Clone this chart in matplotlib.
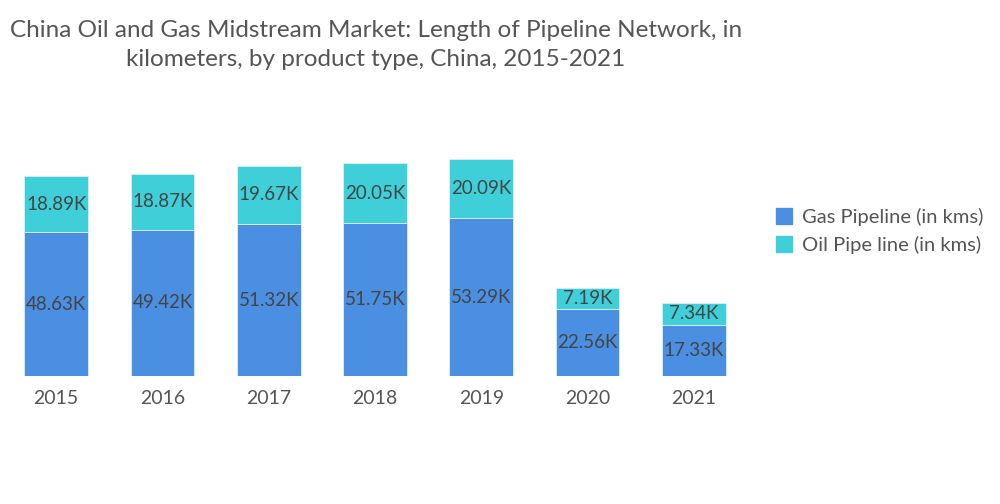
import matplotlib
matplotlib.use("Agg")
import matplotlib.pyplot as plt
from matplotlib.patches import Patch

years = ["2015", "2016", "2017", "2018", "2019", "2020", "2021"]
gas = [48.63, 49.42, 51.32, 51.75, 53.29, 22.56, 17.33]
oil = [18.89, 18.87, 19.67, 20.05, 20.09, 7.19, 7.34]
series_names = ["Gas Pipeline (in kms)", "Oil Pipe line (in kms)"]

gas_color = "#4A8FE2"
oil_color = "#3ECFD8"
text_color = "#555555"

plt.rcParams["font.family"] = ["Lato", "DejaVu Sans"]

fig = plt.figure(figsize=(10, 5.04), dpi=100)
ax = fig.add_axes([0.003, 128 / 504, 0.744, 240 / 504])

x = range(len(years))
ax.bar(x, gas, width=0.6, color=gas_color, edgecolor="#DDEEFF", linewidth=0.6)
ax.bar(x, oil, width=0.6, bottom=gas, color=oil_color, edgecolor="#DDEEFF", linewidth=0.6)

for i in x:
    ax.text(i, gas[i] / 2, f"{gas[i]:.2f}K", ha="center", va="center", fontsize=13.5, color="#444444")
    ax.text(i, gas[i] + oil[i] / 2, f"{oil[i]:.2f}K", ha="center", va="center", fontsize=13.5, color="#444444")

ax.set_xlim(-0.5, len(years) - 0.5)
ax.set_ylim(0, 240 / 2.96)
ax.set_xticks(list(x))
ax.set_xticklabels(years, fontsize=14, color=text_color)
ax.tick_params(axis="x", length=0, pad=10)
ax.set_yticks([])
for s in ax.spines.values():
    s.set_visible(False)

fig.text(0.376, 0.96, "China Oil and Gas Midstream Market: Length of Pipeline Network, in\nkilometers, by product type, China, 2015-2021",
         ha="center", va="top", fontsize=17.5, color=text_color, linespacing=1.45)

handles = [Patch(color=gas_color), Patch(color=oil_color)]
fig.legend(handles, series_names, loc="center left", bbox_to_anchor=(0.758, 0.542), frameon=False,
           fontsize=14.5, labelcolor=text_color, handlelength=0.8, handleheight=0.8, handletextpad=0.5, labelspacing=0.5)

fig.savefig("out.png", dpi=100)
